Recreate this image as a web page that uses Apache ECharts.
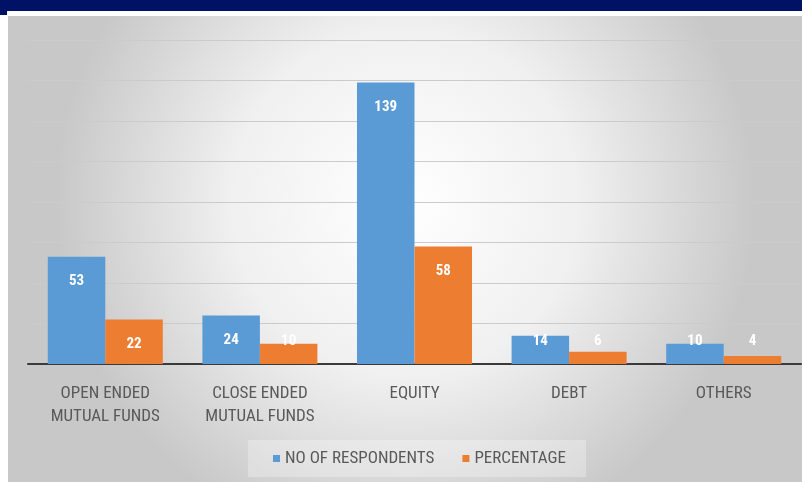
<!DOCTYPE html>
<html>
<head>
<meta charset="utf-8">
<script src="https://cdn.jsdelivr.net/npm/echarts@6/dist/echarts.min.js"></script>
<style>html,body{margin:0;padding:0;background:#fff}#c{width:802px;height:482px}</style>
</head>
<body>
<div id="c"></div>
<script>
const categories = ['OPEN ENDED\nMUTUAL FUNDS', 'CLOSE ENDED\nMUTUAL FUNDS', 'EQUITY', 'DEBT', 'OTHERS'];
const respondents = [53, 24, 139, 14, 10];
const percentage = [22, 10, 58, 6, 4];
const seriesNames = ['NO OF RESPONDENTS', 'PERCENTAGE'];

const FONT = "'Liberation Sans Narrow', 'Roboto Condensed', 'Liberation Sans', Arial, sans-serif";

function labelled(values) {
  return values.map(v => v >= 20
    ? { value: v, label: { position: 'insideTop', distance: 17 } }
    : { value: v, label: { position: 'insideBottom', distance: 15 } });
}

const chart = echarts.init(document.getElementById('c'), null, { renderer: 'canvas' });
chart.setOption({
  backgroundColor: '#ffffff',
  animation: false,
  graphic: [
    { type: 'rect', z: -10, shape: { x: 8, y: 16, width: 794, height: 466 },
      style: { fill: new echarts.graphic.RadialGradient(0.5, 0.4, 0.75, [
        { offset: 0, color: '#ffffff' },
        { offset: 0.5, color: '#f0f0f0' },
        { offset: 1, color: '#c8c8c8' }
      ]) } },
    { type: 'rect', z: 10, shape: { x: 0, y: 0, width: 802, height: 11 }, style: { fill: '#001166' } },
    { type: 'rect', z: 10, shape: { x: 0, y: 0, width: 7, height: 15 }, style: { fill: '#001166' } }
  ],
  grid: { left: 28, right: 1, top: 40, bottom: 118 },
  legend: {
    data: seriesNames,
    left: 248, top: 440,
    icon: 'rect', itemWidth: 7, itemHeight: 7, itemGap: 28,
    padding: [10, 20, 10, 25],
    backgroundColor: 'rgba(255,255,255,0.28)',
    textStyle: { color: '#595959', fontSize: 17, fontFamily: FONT }
  },
  xAxis: {
    type: 'category',
    data: categories,
    axisLine: { lineStyle: { color: '#3a3a3a', width: 2 } },
    axisTick: { show: false },
    axisLabel: { color: '#595959', fontSize: 17, fontFamily: FONT, margin: 18, lineHeight: 23 }
  },
  yAxis: {
    type: 'value', min: 0, max: 160, interval: 20,
    axisLabel: { show: false }, axisLine: { show: false }, axisTick: { show: false },
    splitLine: { lineStyle: { color: '#cbcbcb', width: 1 } }
  },
  series: [
    { name: seriesNames[0], type: 'bar', data: labelled(respondents), barGap: '0%', barCategoryGap: '25.6%',
      itemStyle: { color: '#5B9BD5' },
      label: { show: true, color: '#ffffff', fontWeight: 'bold', fontSize: 15, fontFamily: FONT } },
    { name: seriesNames[1], type: 'bar', data: labelled(percentage),
      itemStyle: { color: '#ED7D31' },
      label: { show: true, color: '#ffffff', fontWeight: 'bold', fontSize: 15, fontFamily: FONT } }
  ]
});
</script>
</body>
</html>
